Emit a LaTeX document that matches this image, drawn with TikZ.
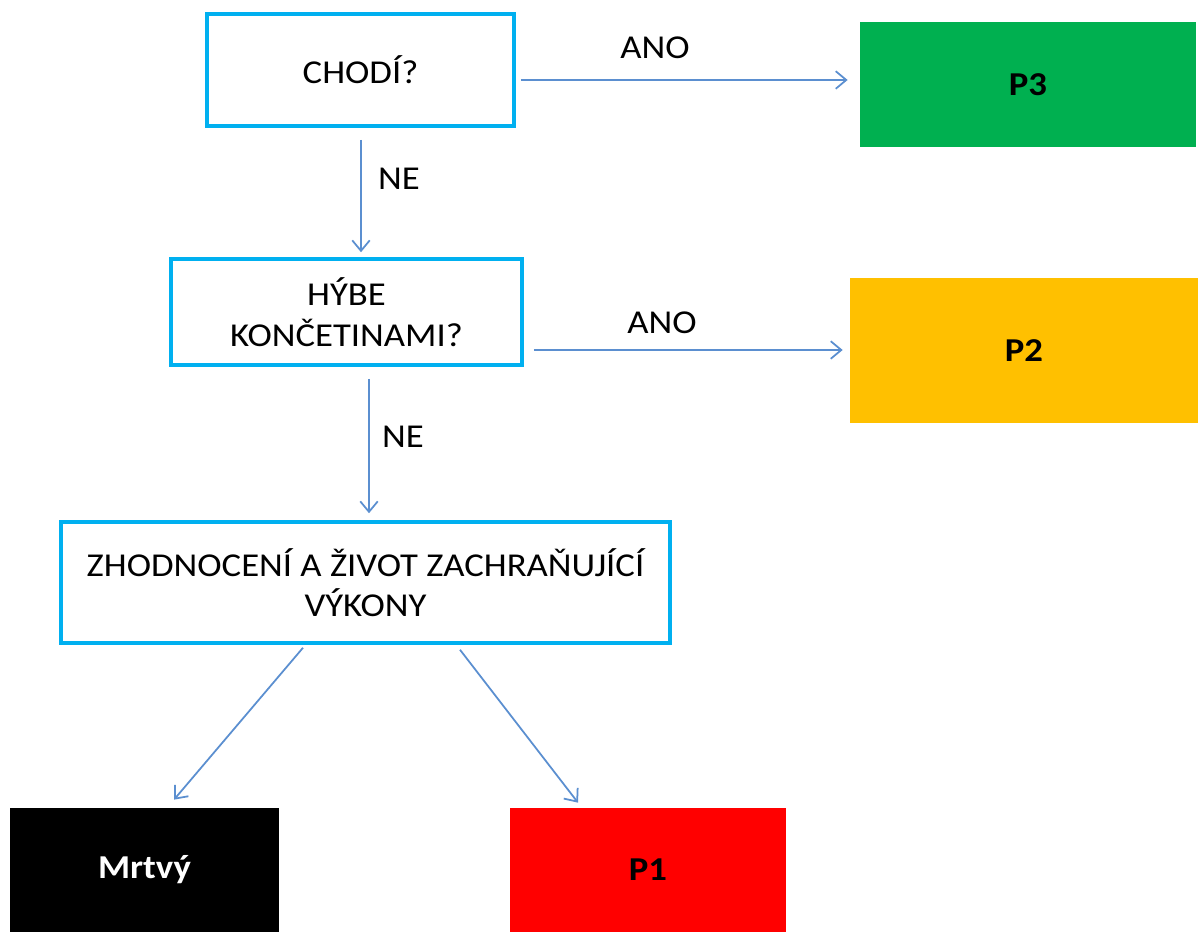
\documentclass[tikz,border=0pt]{standalone}
\usepackage{fontspec}
\setmainfont{Carlito}[FakeStretch=1.1]
\usetikzlibrary{arrows.meta}
\definecolor{boxcyan}{HTML}{00B0F0}
\definecolor{arrblue}{HTML}{5B8FD0}
\definecolor{pgreen}{HTML}{00B050}
\definecolor{porange}{HTML}{FFC000}
\definecolor{pred}{HTML}{FF0000}
\begin{document}
\begin{tikzpicture}[x=0.02cm,y=-0.02cm,
  qbox/.style={draw=boxcyan,line width=2pt,fill=white,align=center,inner sep=0pt,
    font=\fontsize{19}{23}\selectfont},
  cbox/.style={inner sep=0pt,font=\fontsize{19}{23}\selectfont\bfseries},
  arr/.style={draw=arrblue,line width=1pt,-{Straight Barb[length=6pt,width=10pt]}},
  lbl/.style={font=\fontsize{19}{23}\selectfont,inner sep=0pt}]
\useasboundingbox[fill=white] (0,0) rectangle (1198,932);
\node[qbox,minimum width=307*0.02cm,minimum height=112*0.02cm] (chodi) at (360.5,70) {CHODÍ?};
\node[cbox,fill=pgreen,minimum width=336*0.02cm,minimum height=125*0.02cm] (p3) at (1028,84.5) {P3};
\node[qbox,minimum width=351*0.02cm,minimum height=106*0.02cm] (hybe) at (346.5,312) {HÝBE\\KONČETINAMI?};
\node[cbox,fill=porange,minimum width=348*0.02cm,minimum height=145*0.02cm] (p2) at (1024,350.5) {P2};
\node[qbox,minimum width=609*0.02cm,minimum height=121*0.02cm] (zhod) at (365.5,582.5) {ZHODNOCENÍ A ŽIVOT ZACHRAŇUJÍCÍ\\VÝKONY};
\node[cbox,fill=black,text=white,minimum width=269*0.02cm,minimum height=124*0.02cm] (mrtvy) at (144.5,870) {Mrtvý};
\node[cbox,fill=pred,minimum width=276*0.02cm,minimum height=124*0.02cm] (p1) at (648,870) {P1};
\draw[arr] ([shift={(5,10)}]chodi.east) -- ([shift={(-12,-4.5)}]p3.west);
\draw[arr] ([shift={(0.5,12)}]chodi.south) -- ([shift={(14.5,-5)}]hybe.north);
\draw[arr] ([shift={(10,38)}]hybe.east) -- ([shift={(-7,-0.5)}]p2.west);
\draw[arr] ([shift={(22.5,12)}]hybe.south) -- ([shift={(3.5,-7)}]zhod.north);
\draw[arr] ([shift={(-62.5,3)}]zhod.south) -- ([shift={(29.5,-8)}]mrtvy.north);
\draw[arr] ([shift={(94.5,5)}]zhod.south) -- ([shift={(-70,-5)}]p1.north);
\node[lbl] (ano1) at (655,48) {ANO};
\node[lbl] (ne1) at (399,179) {NE};
\node[lbl] (ano2) at (662,323) {ANO};
\node[lbl] (ne2) at (403,437) {NE};
\end{tikzpicture}
\end{document}
